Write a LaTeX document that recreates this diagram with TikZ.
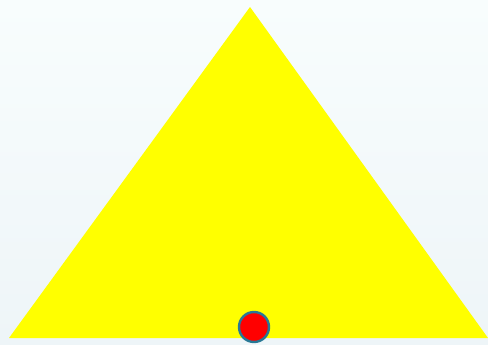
\documentclass[tikz,border=0pt]{standalone}
\usetikzlibrary{positioning}
\definecolor{bgtop}{RGB}{248,253,253}
\definecolor{bgbot}{RGB}{238,245,248}
\definecolor{ringcol}{RGB}{40,120,150}
\definecolor{triyellow}{RGB}{255,255,0}
\definecolor{ballred}{RGB}{255,0,0}

\begin{document}
\begin{tikzpicture}[x=1pt,y=-1pt,
  tri/.style={fill=triyellow,draw=none},
  ball/.style={circle,fill=ballred,draw=ringcol,line width=2.4pt,minimum size=30pt,inner sep=0pt}]
\shade[top color=bgtop,bottom color=bgbot] (0,0) rectangle (488,345);
\useasboundingbox (0,0) rectangle (488,345);
\coordinate (apex) at (250,7);
\coordinate (left) at (9,338);
\coordinate (right) at (488,338);
\fill[tri] (left) -- (apex) -- (right) -- cycle;
\node[ball] (dot) at (254,327) {};
\end{tikzpicture}
\end{document}
